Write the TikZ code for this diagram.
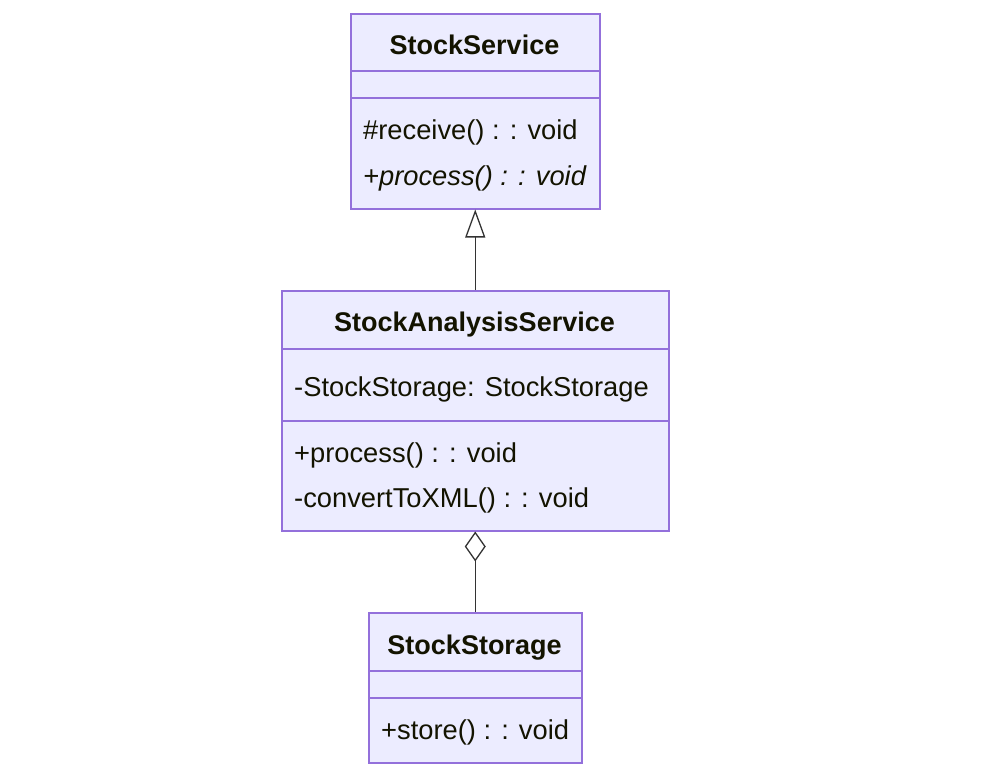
\documentclass[tikz,border=0pt]{standalone}
\usepackage{fontspec}
\setmainfont{Liberation Sans}
\usetikzlibrary{arrows.meta}
\definecolor{boxfill}{HTML}{ECECFF}
\definecolor{boxline}{HTML}{9370DB}
\definecolor{txt}{HTML}{131300}
\definecolor{edgec}{HTML}{333333}
\begin{document}
\begin{tikzpicture}[x=1pt,y=-1pt,
  box/.style={draw=boxline,fill=boxfill,line width=1.5pt,anchor=north west,inner sep=0pt},
  divider/.style={draw=boxline,line width=1.5pt},
  title/.style={text=txt,font=\bfseries\fontsize{27}{32}\selectfont,inner sep=0pt,anchor=base},
  member/.style={text=txt,font=\fontsize{27.3}{32}\selectfont,inner sep=0pt,anchor=base west},
  edge/.style={draw=edgec,line width=1.3pt}]
\useasboundingbox (0,0) rectangle (1000,771);
% StockService
\node[box,minimum width=249pt,minimum height=195pt] (ss) at (350,13) {};
\draw[divider] (350,71) -- (599,71);
\draw[divider] (350,98) -- (599,98);
\node[title] (ssT) at (474.5,54.5) {StockService};
\node[member] (ssM1) at (363,139.5) {\#receive() : : void};
\node[member] (ssM2) at (363,185.5) {\itshape +process() : : void};
% StockAnalysisService
\node[box,minimum width=387pt,minimum height=240pt] (sas) at (281,290) {};
\draw[divider] (281,349) -- (668,349);
\draw[divider] (281,421) -- (668,421);
\node[title] (sasT) at (474.5,331.5) {StockAnalysisService};
\node[member] (sasA1) at (294,396.5) {-StockStorage: StockStorage};
\node[member] (sasM1) at (294,462.5) {+process() : : void};
\node[member] (sasM2) at (294,507.5) {-convertToXML() : : void};
% StockStorage
\node[box,minimum width=213pt,minimum height=150pt] (st) at (368,612) {};
\draw[divider] (368,671) -- (581,671);
\draw[divider] (368,698) -- (581,698);
\node[title] (stT) at (474.5,654.5) {StockStorage};
\node[member] (stM1) at (381,739.5) {+store() : : void};
% connectors
\draw[edge,-{Triangle[open,length=28pt,width=20pt]}] (sas.north) -- (ss.south);
\draw[edge,{Diamond[open,length=30pt,width=21pt]}-] (sas.south) -- (st.north);
\end{tikzpicture}
\end{document}
